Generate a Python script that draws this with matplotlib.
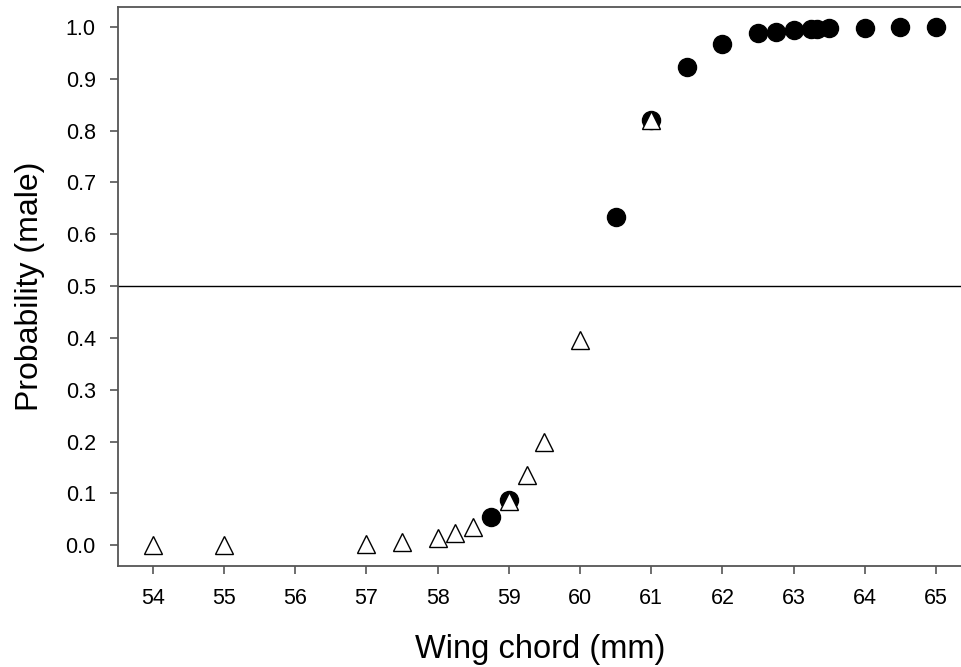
import matplotlib
matplotlib.use("Agg")
import matplotlib.pyplot as plt

plt.rcParams['font.family'] = ['Liberation Sans', 'DejaVu Sans']

# Open triangles
tri_x = [54, 55, 57, 57.5, 58, 58.25, 58.5, 59, 59.25, 59.5, 60, 61]
tri_y = [0.0, 0.0, 0.002, 0.006, 0.015, 0.023, 0.035, 0.085, 0.135, 0.20, 0.397, 0.82]

# Filled circles
circ_x = [58.75, 59, 60.5, 61, 61.5, 62, 62.5, 62.75, 63, 63.25, 63.33, 63.5, 64, 64.5, 65]
circ_y = [0.054, 0.087, 0.634, 0.82, 0.923, 0.968, 0.988, 0.991, 0.994, 0.996, 0.997, 0.998, 0.999, 1.0, 1.0]

x_ticks = list(range(54, 66))
y_ticks = [0.0, 0.1, 0.2, 0.3, 0.4, 0.5, 0.6, 0.7, 0.8, 0.9, 1.0]
threshold = 0.5

fig = plt.figure(figsize=(9.62, 6.67), dpi=100)
ax = fig.add_axes([0.1227, 0.1514, 0.8773, 0.8381])

ax.plot(circ_x, circ_y, 'o', color='black', markersize=13, zorder=3)
ax.plot(tri_x, tri_y, '^', markerfacecolor='white', markeredgecolor='black',
        markersize=12.5, markeredgewidth=1.0, linestyle='none', zorder=4)
ax.axhline(threshold, color='black', linewidth=1.0, zorder=2)

ax.set_xlim(53.51, 65.365)
ax.set_ylim(-0.04, 1.0386)
ax.set_xticks(x_ticks)
ax.set_xticklabels([str(t) for t in x_ticks])
ax.set_yticks(y_ticks)
ax.set_yticklabels([f"{t:.1f}" for t in y_ticks])

for s in ['left', 'bottom', 'top']:
    ax.spines[s].set_color('#555555')
    ax.spines[s].set_linewidth(1.3)
ax.spines['right'].set_visible(False)

ax.tick_params(axis='both', direction='out', length=6, width=1.2, color='#555555',
               labelsize=15.5, pad=10)

ax.set_xlabel('Wing chord (mm)', fontsize=23.5, labelpad=18)
ax.set_ylabel('Probability (male)', fontsize=23, labelpad=15)

fig.savefig('out.png', dpi=100)
